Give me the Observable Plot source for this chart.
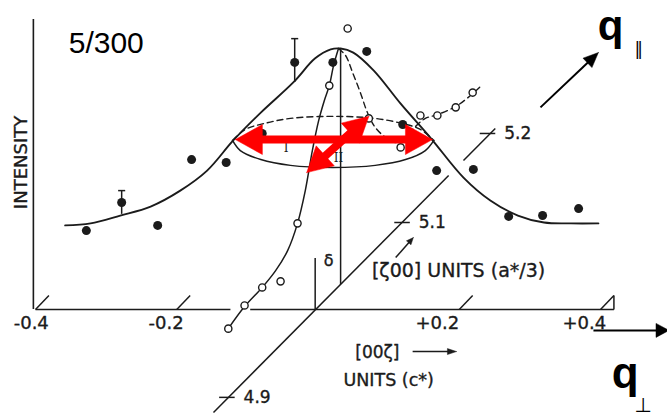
<!DOCTYPE html>
<html>
<head>
<meta charset="utf-8">
<script src="https://cdn.jsdelivr.net/npm/d3@7"></script>
<script src="https://cdn.jsdelivr.net/npm/@observablehq/plot@0.6"></script>
<style>
  html, body { margin: 0; padding: 0; background: #fff; }
  #chart svg { display: block; }
</style>
</head>
<body>
<div id="chart"></div>
<script>
// Scan along [00ζ] (filled circles): q in c* units, intensity in arbitrary units
const scanQ = [-0.328, -0.278, -0.227, -0.179, -0.130, -0.079, -0.033, 0.021, 0.069, 0.120, 0.168, 0.220, 0.270, 0.318, 0.369];
const scanI = [27.2, 36.9, 29.0, 51.7, 50.7, 60.7, 85.2, 85.2, 89.0, 63.8, 47.9, 48.3, 32.1, 32.4, 34.8];

// Error bars on two of the filled points
const errQ = [-0.278, -0.033];
const errLo = [32.8, 78.3];
const errHi = [41.0, 93.4];

// Fitted profile I (solid curve through the filled points)
const fitQ = [-0.358, -0.322, -0.280, -0.237, -0.195, -0.157, -0.120, -0.081, -0.035, -0.004, 0.018, 0.032, 0.050, 0.079, 0.117, 0.159, 0.206, 0.244, 0.283, 0.320, 0.358, 0.397];
const fitI = [29.0, 29.7, 32.4, 35.5, 41.0, 47.9, 58.3, 67.9, 78.3, 86.6, 89.7, 90.0, 88.6, 82.4, 71.0, 59.3, 45.5, 37.6, 32.4, 30.0, 29.7, 29.7];

// Profile II along [ζ00], drawn in perspective: near branch (solid) and far branch (dashed)
const nearQ = [-0.127, -0.104, -0.079, -0.060, -0.043, -0.029, -0.018, -0.008, 0.001, 0.009, 0.016, 0.022, 0.029];
const nearI = [-6.6, 1.0, 7.6, 13.4, 20.3, 29.7, 41.0, 54.8, 65.2, 72.1, 77.2, 84.1, 90.0];
const farQ = [0.029, 0.039, 0.049, 0.060, 0.070, 0.081, 0.096, 0.110, 0.124, 0.138, 0.152, 0.169, 0.195, 0.216, 0.230];
const farI = [90.0, 87.6, 81.7, 74.8, 67.9, 62.8, 59.3, 57.6, 59.3, 63.1, 65.9, 67.2, 70.0, 73.8, 76.9];

// Open circles of the [ζ00] scan
const openQ = [-0.127, -0.104, -0.079, -0.053, -0.029, 0.016, 0.042, 0.072, 0.117, 0.145, 0.169, 0.195, 0.219];
const openI = [-6.6, 1.4, 7.6, 9.7, 29.7, 77.2, 96.9, 65.9, 55.9, 66.9, 66.9, 69.7, 74.8];

// Half-height ring of the peak: back half (dashed) and front half (solid)
const ringBackQ = [-0.121, -0.103, -0.077, -0.039, 0.021, 0.081, 0.120, 0.145, 0.164];
const ringBackI = [58.3, 62.1, 64.1, 65.9, 66.6, 65.9, 64.1, 62.1, 58.3];
const ringFrontQ = [-0.121, -0.110, -0.081, -0.039, 0.021, 0.081, 0.124, 0.152, 0.164];
const ringFrontI = [58.3, 54.8, 51.7, 49.7, 49.0, 49.7, 51.7, 54.8, 58.3];

// Axis ticks and where their hand-lettered labels sit
const xTicks = [-0.4, -0.2, 0.2, 0.4];
const xTickLabels = ["-0.4", "-0.2", "+0.2", "+0.4"];
const xTickLabelQ = [-0.406, -0.215, 0.169, 0.377];
const zetaLabels = ["4.9", "5.1", "5.2"];
const zetaQ = [-0.128, 0.120, 0.241];
const zetaI = [-30.3, 30.0, 60.7];

const ink = "#1b1b1b";
const red = "#ff0000";
const scanFont = "DejaVu Sans";
const lettering = {fontFamily: scanFont, fill: ink, stroke: ink, strokeWidth: 0.35, lineAnchor: "middle"};

const xDomain = [-0.4, 0.4], yDomain = [0, 100];
const W = 667, H = 418;
const margin = {left: 35, right: 67, top: 19, bottom: 109};
const X = d3.scaleLinear(xDomain, [margin.left, W - margin.right]);
const Y = d3.scaleLinear(yDomain, [H - margin.bottom, margin.top]);
const inv = ([px, py]) => [X.invert(px), Y.invert(py)];

// Arrow built in screen space: shaft plus filled triangular head(s)
function arrow(from, to, {len, wid, width, color, both = false}) {
  const p0 = [X(from[0]), Y(from[1])], p1 = [X(to[0]), Y(to[1])];
  const d = Math.hypot(p1[0] - p0[0], p1[1] - p0[1]);
  const u = [(p1[0] - p0[0]) / d, (p1[1] - p0[1]) / d];
  const head = (tip, s) => {
    const b = [tip[0] - s * u[0] * len, tip[1] - s * u[1] * len];
    return [tip, [b[0] - u[1] * wid / 2, b[1] + u[0] * wid / 2], [b[0] + u[1] * wid / 2, b[1] - u[0] * wid / 2], tip].map(inv);
  };
  const heads = [head(p1, 1)];
  if (both) heads.push(head(p0, -1));
  const s0 = both ? [p0[0] + u[0] * (len - 2), p0[1] + u[1] * (len - 2)] : p0;
  const s1 = [p1[0] - u[0] * (len - 2), p1[1] - u[1] * (len - 2)];
  const shaft = [inv(s0), inv(s1)];
  return [
    Plot.link([shaft], {x1: d => d[0][0], y1: d => d[0][1], x2: d => d[1][0], y2: d => d[1][1], stroke: color, strokeWidth: width}),
    ...heads.map(h => Plot.line(h, {x: d => d[0], y: d => d[1], fill: color, stroke: color, strokeWidth: 0.5, curve: "linear"}))
  ];
}

const zip = (a, b) => a.map((v, i) => [v, b[i]]);
const scan = zip(scanQ, scanI);
const fit = zip(fitQ, fitI);
const near = zip(nearQ, nearI);
const far = zip(farQ, farI);
const open = zip(openQ, openI);
const ringBack = zip(ringBackQ, ringBackI);
const ringFront = zip(ringFrontQ, ringFrontI);
const zeta = zetaLabels.map((t, i) => ({t, q: zetaQ[i], i: zetaI[i]}));
const errs = errQ.map((q, i) => ({q, lo: errLo[i], hi: errHi[i]}));

// [ζ00] axis in perspective, through the origin of the [00ζ] axis
const zetaAxis = [[[-0.148, -35.5], [0.185, 46.2]], [[0.206, 51.4], [0.251, 62.4]]];
const baseAxis = [[[-0.4, 0], [-0.124, 0]], [[-0.096, 0], [0.419, 0]]];
const seg = (data, opts) => Plot.link(data, {x1: d => d[0][0], y1: d => d[0][1], x2: d => d[1][0], y2: d => d[1][1], ...opts});
const xy = {x: d => d[0], y: d => d[1]};

const chart = Plot.plot({
  width: W, height: H,
  marginLeft: margin.left, marginRight: margin.right, marginTop: margin.top, marginBottom: margin.bottom,
  x: {domain: xDomain, axis: null},
  y: {domain: yDomain, axis: null},
  style: {background: "#fff", color: ink},
  marks: [
    // axes
    Plot.ruleX([-0.403], {y1: 0, y2: 100, stroke: ink, strokeWidth: 1.6}),
    seg(baseAxis, {stroke: ink, strokeWidth: 1.6}),
    Plot.link(xTicks, {x1: d => d, y1: 0, x2: d => d + 0.019, y2: 4.8, stroke: ink, strokeWidth: 1.5}),
    Plot.link([0.419], {x1: d => d, y1: 0, x2: d => d, y2: 4.8, stroke: ink, strokeWidth: 1.5}),
    Plot.text(xTickLabels, {x: (d, i) => xTickLabelQ[i], y: -4.8, text: d => d, fontSize: 18, ...lettering}),
    seg(zetaAxis, {stroke: ink, strokeWidth: 1.5}),
    Plot.link(zeta, {x1: d => d.q - 0.012, x2: d => d.q + 0.01, y1: d => d.i, y2: d => d.i, stroke: ink, strokeWidth: 1.5}),
    Plot.text(zeta, {x: "q", y: "i", text: "t", dx: 16, textAnchor: "start", fontSize: 17, ...lettering}),

    // peak position and its offset δ
    Plot.ruleX([0.032], {y1: 8.6, y2: 90, stroke: ink, strokeWidth: 1.5}),
    Plot.ruleX([-0.004], {y1: 0, y2: 17.6, stroke: ink, strokeWidth: 1.5}),
    Plot.text(["δ"], {x: 0.015, y: 16.9, fontSize: 16, ...lettering}),

    // half-height ring
    Plot.line(ringBack, {...xy, stroke: ink, strokeWidth: 1.4, strokeDasharray: "6,4", curve: "catmull-rom"}),
    Plot.line(ringFront, {...xy, stroke: ink, strokeWidth: 1.5, curve: "catmull-rom"}),

    // profiles
    Plot.line(fit, {...xy, stroke: ink, strokeWidth: 1.9, curve: "catmull-rom"}),
    Plot.line(near, {...xy, stroke: ink, strokeWidth: 1.5, curve: "catmull-rom"}),
    Plot.line(far, {...xy, stroke: ink, strokeWidth: 1.4, strokeDasharray: "6,4", curve: "catmull-rom"}),

    // error bars
    Plot.ruleX(errs, {x: "q", y1: "lo", y2: "hi", stroke: ink, strokeWidth: 1.5}),
    Plot.link(errs, {x1: d => d.q - 0.005, x2: d => d.q + 0.005, y1: "hi", y2: "hi", stroke: ink, strokeWidth: 1.5}),

    // data points
    Plot.dot(scan, {...xy, r: 4.5, fill: ink, stroke: "none"}),
    Plot.dot(open, {...xy, r: 3.6, fill: "#fff", stroke: ink, strokeWidth: 1.4}),
    Plot.text(["I", "II"], {x: [-0.045, 0.029], y: [55.5, 52.1], text: d => d, fontFamily: "DejaVu Serif", fontSize: 12, fill: ink, lineAnchor: "middle"}),

    // axis captions
    Plot.text(["INTENSITY"], {x: -0.42, y: 50.7, rotate: -90, fontSize: 18, ...lettering}),
    Plot.text(["[00ζ]"], {x: 0.084, y: -14.8, fontSize: 17, ...lettering}),
    ...arrow([0.134, -14.5], [0.196, -14.5], {len: 9, wid: 6, width: 1.5, color: ink}),
    Plot.text(["UNITS (c*)"], {x: 0.100, y: -24.5, fontSize: 17.5, ...lettering}),
    Plot.text(["[ζ00] UNITS (a*/3)"], {x: 0.199, y: 13.4, fontSize: 19, ...lettering}),
    ...arrow([0.110, 17.9], [0.135, 24.8], {len: 7, wid: 6, width: 1.5, color: ink}),

    // widths of the peak in the two directions
    ...arrow([-0.117, 58.6], [0.162, 58.6], {len: 27, wid: 30, width: 8, color: red, both: true}),
    ...arrow([-0.016, 47.2], [0.072, 66.6], {len: 25, wid: 27, width: 8, color: red, both: true}),

    // momentum directions
    ...arrow([0.315, 69.7], [0.397, 88.6], {len: 15, wid: 13, width: 2, color: "#000"}),
    Plot.text(["q"], {x: 0.396, y: 93.0, textAnchor: "start", lineAnchor: "bottom", fontFamily: "Liberation Sans", fontWeight: "bold", fontSize: 42, fill: "#000"}),
    Plot.text(["‖"], {x: 0.454, y: 87.6, lineAnchor: "bottom", fontFamily: "DejaVu Sans", fontSize: 17, fill: "#000"}),
    ...arrow([0.390, -7.2], [0.497, -7.2], {len: 13, wid: 14, width: 2, color: "#000"}),
    Plot.text(["q"], {x: 0.416, y: -26.9, textAnchor: "start", lineAnchor: "bottom", fontFamily: "Liberation Sans", fontWeight: "bold", fontSize: 44, fill: "#000"}),
    Plot.text(["⊥"], {x: 0.460, y: -35.5, lineAnchor: "bottom", fontFamily: "DejaVu Sans", fontSize: 20, fill: "#000"}),

    // temperature label
    Plot.text(["5/300"], {x: -0.353, y: 88.3, textAnchor: "start", lineAnchor: "bottom", fontFamily: "Liberation Sans", fontSize: 30, fill: "#000"})
  ]
});

document.getElementById("chart").appendChild(chart);
</script>
</body>
</html>
